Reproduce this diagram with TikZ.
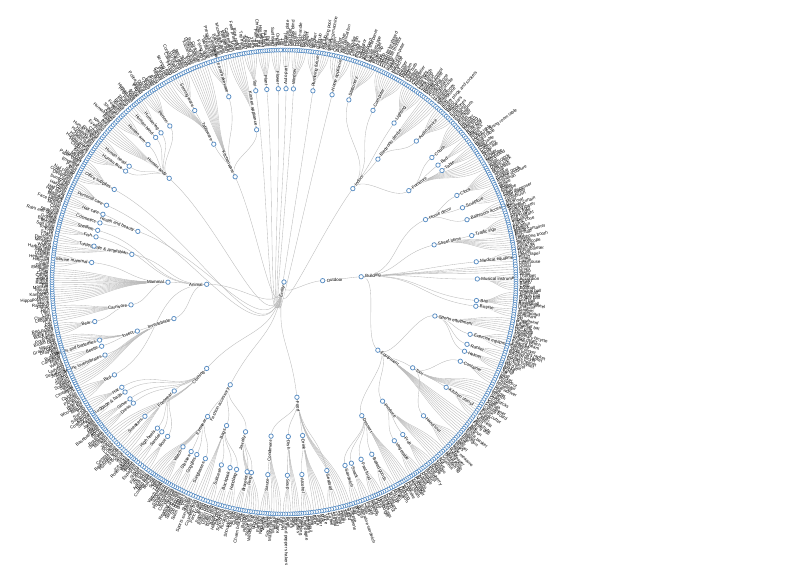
\documentclass[tikz,border=0pt]{standalone}
\usepackage{fontspec}
\setmainfont{Liberation Sans}
\definecolor{ringblue}{RGB}{90,142,196}

\tikzset{
  branch/.style={draw=black!27, line width=0.35pt},
  knot/.style={circle, draw=ringblue, fill=white, line width=0.75pt, inner sep=0pt, minimum size=4.4pt},
  leafdot/.style={knot, minimum size=4pt, line width=0.65pt},
  nodetag/.style={font=\fontsize{4.4}{4.4}\selectfont, inner sep=0.4pt, fill=white, fill opacity=0.75, text opacity=1, text=black},
  leaftag/.style={font=\fontsize{4.4}{4.4}\selectfont, inner sep=0pt, text=black},
}

\newcount\leafno
\newcount\tagno
\def\dang{0.6}
\def\mode{1}

% label pointing away from the centre
\newcommand\tagit[4]{%
  \global\advance\tagno by 1
  \pgfmathsetmacro\tr{#2+3.5}%
  \pgfmathsetmacro\tc{cos(#1)}%
  \ifdim\tc pt<0pt
    \pgfmathsetmacro\trot{#1+180}\def\tanc{east}%
  \else
    \pgfmathsetmacro\trot{#1}\def\tanc{west}%
  \fi
  \node[#4, anchor=\tanc, rotate=\trot] (tag\the\tagno) at (#1:\tr) {#3};}

% inner node: name, angle, height, parent, label
% pass 1 draws the links, pass 2 the circles and labels
\newcommand\treenode[5]{%
  \pgfmathsetmacro\kr{232*(1-#3/6)}%
  \ifnum\mode=1
    \expandafter\xdef\csname ka#1\endcsname{#2}%
    \expandafter\xdef\csname kr#1\endcsname{\kr}%
    \pgfmathsetmacro\pa{\csname ka#4\endcsname}%
    \pgfmathsetmacro\pr{\csname kr#4\endcsname}%
    \pgfmathsetmacro\km{(\pr+\kr)/2}%
    \coordinate (#1) at (#2:\kr);
    \draw[branch] (#4) .. controls (\pa:\km) and (#2:\km) .. (#1);
  \else
    \node[knot] (#1 dot) at (#1) {};
    \tagit{#2}{\kr}{#5}{nodetag}%
  \fi}

\def\popname#1,#2\relax{\gdef\curname{#1}\gdef\pool{#2}}

% leaves of one parent, from the last angle down to #2
\newcommand\fan[2]{%
  \pgfmathsetmacro\fs{\lastend}%
  \pgfmathtruncatemacro\fn{max(1,round((\fs-(#2))/\dang))}%
  \pgfmathsetmacro\fstep{(\fs-(#2))/\fn}%
  \pgfmathsetmacro\pa{\csname ka#1\endcsname}%
  \pgfmathsetmacro\pr{\csname kr#1\endcsname}%
  \pgfmathsetmacro\fm{(\pr+232)/2}%
  \foreach \k in {1,...,\fn}{%
    \pgfmathsetmacro\la{\fs-(\k-0.5)*\fstep}%
    \global\advance\leafno by 1
    \ifnum\mode=1
      \coordinate (leaf\the\leafno) at (\la:232);
      \draw[branch] (#1) .. controls (\pa:\fm) and (\la:\fm) .. (leaf\the\leafno);
    \else
      \ifx\pool\empty\global\let\pool\fullpool\fi
      \expandafter\popname\pool\relax
      \node[leafdot] (leaf\the\leafno dot) at (leaf\the\leafno) {};
      \tagit{\la}{232}{\curname}{leaftag}%
    \fi
  }%
  \xdef\lastend{#2}}

\def\fullpool{%
Tire,Wheel,License plate,Seat belt,%
Window blind,Curtain,Door,Door handle,Porch,Balcony,Skylight,%
Sink,Bidet,Shower,Tap,Bathtub,Toilet,Hot tub,Swimming pool,Urinal,%
Washing machine,Toaster,Oven,Blender,Gas stove,Mechanical fan,Heater,Kettle,Humidifier,Ceiling fan,%
Scissors,Poster,Calculator,Stapler,Whiteboard,Pencil sharpener,Eraser,Adhesive tape,Ring binder,Paper clip,Globe,%
Laptop,Computer keyboard,Computer mouse,Computer monitor,Printer,Tablet computer,Hard disk,Projector,Fax,Scanner,Router,Webcam,%
Lamp,Light bulb,Lantern,Candle,Chandelier,Torch,Flashlight,Light switch,Desk lamp,%
Television,Remote control,Mobile phone,Telephone,Corded phone,Loudspeaker,Game console,%
Camera,Headphones,Microphone,Ipod,Power plugs and sockets,Radio,Binoculars,Tripod,Earphones,%
Sofa bed,Studio couch,Loveseat,Armchair,Futon,Recliner,Ottoman,Beanbag,%
Infant bed,Bunk bed,Mattress,Pillow,%
Coffee table,Kitchen \& dining room table,Billiard table,Desk,Side table,%
Chair,Cabinetry,Bookcase,Shelf,Drawer,Wardrobe,Nightstand,Stool,%
Alarm clock,Digital clock,Wall clock,Hourglass,Timer,Sundial,Cuckoo clock,%
Bronze sculpture,Snowman,Statue,Bust,Totem,Figurine,%
Towel,Soap dispenser,Toilet paper,Toothbrush,Mirror,Bath mat,Shower curtain,%
Stop sign,Parking meter,Traffic light,Street light,Fire hydrant,Billboard,Traffic cone,%
Bench,Fountain,Mailbox,Waste container,Bus stop,Flag,Telephone booth,%
Syringe,Stethoscope,Stretcher,Band-aid,Thermometer,%
House,Skyscraper,Tower,Castle,Lighthouse,%
Guitar,Drum,Piano,Violin,Trumpet,Accordion,Organ,Banjo,Cello,%
Football,Cricket ball,Volleyball,Tennis ball,Rugby ball,Golf ball,Basketball,%
Bicycle wheel,Unicycle,Tandem,%
Skateboard,Surfboard,Ski,Snowboard,Paddle,Baseball bat,Golf club,%
Dumbbell,Treadmill,Stationary bicycle,Indoor rower,Training bench,Balance beam,Kettlebell,%
Tennis racket,Table tennis racket,Badminton racket,Squash racket,%
Football helmet,Bicycle helmet,Ski helmet,Hard hat,%
Tin can,Bottle,Barrel,Jar,Vase,Bucket,Flowerpot,%
Chainsaw,Hammer,Screwdriver,Drill,Ladder,Wrench,Scale,%
Chopsticks,Ladle,Spatula,Can opener,Cutting board,Whisk,Pizza cutter,Grater,Peeler,%
Umbrella,Tent,Parachute,Flying disc,Kite,Balloon,Dice,Picnic basket,Sword,Handgun,Rifle,%
Axe,Saw,Shovel,Pliers,Nail,Tape measure,Ruler,Sandpaper,%
Mushroom,Honeycomb,Common fig,Coconut,Nut,Olive,Tomato,%
Apple,Grape,Pear,Strawberry,Banana,Lemon,Orange,%
Carrot,Potato,Broccoli,Cabbage,Cucumber,Pumpkin,%
Ice cream,Cake,Cupcake,Tart,Pudding,Macaron,%
Bagel,Muffin,Cookie,Bread,Croissant,Doughnut,%
Hot dog,French fries,Hamburger,Pizza,Taco,Nachos,%
Popcorn,Pretzel,Candy,Chips,%
Submarine sandwich,Burrito,Wrap,%
Egg,Cheese,Guacamole,Salad,Tofu,%
Sushi,Oyster,Shrimp,Lobster,Scallop,%
Coffee,Tea,Juice,Milk,Water,Soda,%
Beer,Wine,Cocktail,Whiskey,Champagne,%
Pasta,Dumpling,Noodles,Rice,%
Stew,Curry,Broth,%
Salt and pepper shakers,Honey,Jam,Ketchup,Butter,%
Mustard,Mayonnaise,Soy sauce,Salsa,Vinegar,%
Necklace,Earrings,Crown,Brooch,%
Wedding ring,Signet ring,Ring box,%
Bangle,Cuff,Charm bracelet,Anklet,%
Clutch,Tote bag,Shoulder bag,Purse,%
Rucksack,School bag,Daypack,Hiking pack,%
Briefcase,Trolley bag,Duffel bag,Travel bag,%
Plastic bag,Paper bag,Wallet,Pencil case,Cosmetic bag,%
Aviators,Sports sunglasses,Shades,Visor,%
Swim goggles,Ski goggles,Safety goggles,Welding mask,%
Reading glasses,Monocle,Contact lens,%
Wristwatch,Pocket watch,Smartwatch,Stopwatch,Watch strap,%
Tiara,Belt,Scarf,Tie,Bow tie,%
Cowboy boot,Rain boot,Ankle boot,Ski boot,%
Flip-flops,Slipper,Clog,Espadrille,%
Pump,Stiletto,Wedge,%
Roller skates,Ice skate,Sock,Shoe,Stocking,%
Running shoe,Basketball shoe,Canvas shoe,Loafer,%
Shorts,Jeans,Skirt,Miniskirt,%
Swimwear,Brassiere,Gown,Apron,%
Baseball glove,Mitten,Glove,%
Coat,Jacket,Suit,Sweater,%
Cowboy hat,Fedora,Sombrero,Sun hat,Cap,%
Magpie,Woodpecker,Blue jay,Ostrich,Penguin,Raven,Chicken,%
Tick,Centipede,Snail,Spider,Scorpion,Worm,%
Starfish,Isopod,Squid,Jellyfish,Sea urchin,%
Ladybug,Ant,Weevil,Firefly,%
Caterpillar,Butterfly,Moth,%
Bee,Dragonfly,Grasshopper,Mosquito,Fly,%
Brown bear,Polar bear,Panda,Black bear,Teddy bear,Red panda,%
Dog,Fox,Cat,Leopard,Cheetah,Lion,Tiger,Lynx,Jaguar,Raccoon,Skunk,%
Hippopotamus,Horse,Kangaroo,Koala,Mouse,Monkey,Pig,Rabbit,Sheep,Zebra,Camel,Cattle,Deer,Elephant,Giraffe,Goat,Hamster,Hedgehog,%
Dolphin,Whale,Sea lion,Harbor seal,Walrus,Otter,Manatee,%
Dinosaur,Lizard,Snake,Frog,%
Tortoise,Sea turtle,Terrapin,Box turtle,%
Goldfish,Shark,Rays and skates,Seahorse,%
Crab,Clam,Mussel,%
Face powder,Lipstick,Perfume,Mascara,%
Hair spray,Hair dryer,Comb,Hairbrush,%
Razor,Sunscreen,Lotion,Deodorant,Cotton swab,Nail clipper,Soap,%
Pen,Pencil,Envelope,Box,Paper cutter,Notebook,Marker,Stamp,Folder,Clipboard,%
Human eye,Human mouth,Human nose,Human ear,Human beard,Human hair,Human tongue,%
Forehead,Cheek,Chin,Eyebrow,%
Man,Woman,Boy,Girl,Baby,Human body,Crowd,%
Elbow,Shoulder,Wrist,Forearm,Armpit,Biceps,%
Finger,Thumb,Palm,Fingernail,%
Human foot,Knee,Ankle,Toe,%
Player,Soldier,Police officer,Doctor,Chef,Clown,Bride,%
Plate,Bowl,Mug,Teapot,Saucer,Platter,Napkin,%
Serving tray,Jug,Pitcher,Cake stand,Cocktail shaker,Coffee cup,Wine glass,Beer glass,%
Spoon,Fork,Knife,Kitchen knife,Drinking straw,Bottle opener,Corkscrew,Tongs,%
Frying pan,Wok,Waffle iron,Slow cooker,Pressure cooker,Casserole,Baking tray,Saucepan,%
Microwave oven,Refrigerator,Dishwasher,Coffeemaker,Mixer,Food processor,Rice cooker,%
Doll,Toy block,Toy car,Puzzle,Rattle,Yo-yo,%
Tree,Palm tree,Christmas tree,Houseplant,Cactus,Bamboo,%
Rose,Lily,Sunflower,Tulip,Orchid,}
\let\pool\fullpool

% the whole tree, run once per pass
\newcommand\buildtree{%
  \xdef\lastend{90.55}\global\leafno=0
  \treenode{out}{2.0}{5}{root}{Outdoor}
  \treenode{bld}{3.9}{4}{out}{Building}
  \treenode{ani}{181.7}{4}{root}{Animal}
  \treenode{mam}{180.1}{3}{ani}{Mammal}
  \treenode{car}{188.5}{2}{mam}{Carnivore}
  \treenode{bear}{191.8}{1}{car}{Bear}
  \treenode{mmam}{174.2}{1}{mam}{Marine mammal}
  \treenode{inv}{198.4}{3}{ani}{Invertebrate}
  \treenode{ins}{198.5}{2}{inv}{Insect}
  \treenode{moth}{197.5}{1}{ins}{Moths and butterflies}
  \treenode{beet}{199.4}{1}{ins}{Beetle}
  \treenode{minv}{202.2}{1}{inv}{Marine invertebrates}
  \treenode{bird}{208.7}{1}{ani}{Bird}
  \treenode{rep}{169.7}{2}{ani}{Reptile \& Amphibian}
  \treenode{turt}{169.3}{1}{rep}{Turtle}
  \treenode{fish}{166.5}{1}{ani}{Fish}
  \treenode{shell}{164.5}{1}{ani}{Shellfish}
  \treenode{hb}{160.9}{2}{root}{Health and beauty}
  \treenode{cosm}{162.2}{1}{hb}{Cosmetics}
  \treenode{hair}{159.5}{1}{hb}{Hair care}
  \treenode{pc}{156.6}{1}{root}{Personal care}
  \treenode{offs}{151.4}{1}{root}{Office supplies}
  \treenode{body}{137.9}{2}{root}{Human body}
  \treenode{face}{145.0}{1}{body}{Human face}
  \treenode{head}{143.2}{1}{body}{Human head}
  \treenode{arm}{134.7}{1}{body}{Human arm}
  \treenode{hand}{131.6}{1}{body}{Human hand}
  \treenode{leg}{129.5}{1}{body}{Human leg}
  \treenode{person}{126.2}{1}{body}{Person}
  \treenode{kit}{114.9}{3}{root}{Kitchenware}
  \treenode{tabw}{117.0}{2}{kit}{Tableware}
  \treenode{serv}{117.5}{1}{tabw}{Serving ware}
  \treenode{cook}{106.6}{1}{kit}{Cookware and bakeware}
  \treenode{kapp}{100.2}{2}{kit}{Kitchen appliance}
  \treenode{toy}{98.4}{1}{root}{Toy}
  \treenode{plant}{95.1}{1}{root}{Plant}
  \treenode{flower}{91.7}{1}{root}{Flower}
  \treenode{t894}{89.4}{1}{root}{Auto part}
  \treenode{t872}{87.2}{1}{root}{Window}
  \treenode{t814}{81.4}{1}{root}{Plumbing fixture}
  \treenode{t756}{75.6}{1}{root}{Home appliance}
  \treenode{ind}{53.6}{3}{root}{Indoor}
  \treenode{t704}{70.4}{1}{ind}{Stationery}
  \treenode{t626}{62.6}{1}{ind}{Computer}
  \treenode{t553}{55.3}{1}{ind}{Lighting}
  \treenode{elec}{52.6}{2}{ind}{Electronic device}
  \treenode{t468}{46.8}{1}{elec}{Audio device}
  \treenode{furn}{36.2}{2}{ind}{Furniture}
  \treenode{couch}{40.1}{1}{furn}{Couch}
  \treenode{bed}{37.2}{1}{furn}{Bed}
  \treenode{table}{35.2}{1}{furn}{Table}
  \treenode{deco}{23.8}{2}{bld}{Home decor}
  \treenode{clock}{26.6}{1}{deco}{Clock}
  \treenode{sculp}{22.6}{1}{deco}{Sculpture}
  \treenode{bath}{18.8}{1}{deco}{Bathroom accessory}
  \treenode{street}{13.9}{2}{bld}{Street items}
  \treenode{tsign}{13.9}{1}{street}{Traffic sign}
  \treenode{med}{6.0}{1}{bld}{Medical equipment}
  \treenode{musi}{0.9}{1}{bld}{Musical instrument}
  \treenode{ball}{-5.5}{1}{bld}{Ball}
  \treenode{bike}{-7.2}{1}{bld}{Bicycle}
  \treenode{gear}{-36.0}{3}{bld}{Equipment}
  \treenode{sport}{-12.7}{2}{gear}{Sports equipment}
  \treenode{exer}{-15.7}{1}{sport}{Exercise equipment}
  \treenode{rack}{-18.8}{1}{sport}{Racket}
  \treenode{helm}{-21.0}{1}{sport}{Helmet}
  \treenode{tool}{-33.7}{2}{gear}{Tool}
  \treenode{cont}{-24.2}{1}{tool}{Container}
  \treenode{kut}{-33.0}{1}{tool}{Kitchen utensil}
  \treenode{htool}{-43.8}{1}{tool}{Hand tool}
  \treenode{prod}{-50.4}{2}{gear}{Produce}
  \treenode{fruit}{-52.1}{1}{prod}{Fruit}
  \treenode{vegt}{-55.2}{1}{prod}{Vegetable}
  \treenode{dess}{-59.8}{2}{gear}{Dessert}
  \treenode{baked}{-63.0}{1}{dess}{Baked goods}
  \treenode{fastf}{-66.5}{1}{dess}{Fast food}
  \treenode{snack}{-69.6}{1}{dess}{Snack}
  \treenode{sandw}{-71.6}{1}{dess}{Sandwich}
  \treenode{food}{-83.6}{3}{root}{Food}
  \treenode{seaf}{-77.2}{1}{food}{Seafood}
  \treenode{drink}{-83.1}{2}{food}{Drink}
  \treenode{alco}{-84.7}{1}{drink}{Alcohol}
  \treenode{dish}{-88.4}{2}{food}{Dish}
  \treenode{soup}{-89.0}{1}{dish}{Soup}
  \treenode{cond}{-94.8}{2}{food}{Condiment}
  \treenode{sauce}{-94.8}{1}{cond}{Sauce}
  \treenode{fash}{-117.6}{3}{root}{Fashion accessory}
  \treenode{jew}{-104.4}{2}{fash}{Jewelry}
  \treenode{ring}{-99.7}{1}{jew}{Ring}
  \treenode{brac}{-101.0}{1}{jew}{Bracelet}
  \treenode{bags}{-111.8}{2}{fash}{Bags}
  \treenode{hbag}{-104.2}{1}{bags}{Handbag}
  \treenode{backp}{-106.2}{1}{bags}{Backpack}
  \treenode{suitc}{-108.9}{1}{bags}{Suitcase}
  \treenode{eyew}{-119.6}{2}{fash}{Eyewear}
  \treenode{sungl}{-114.0}{1}{eyew}{Sunglasses}
  \treenode{goggl}{-116.8}{1}{eyew}{Goggles}
  \treenode{glass}{-118.7}{1}{eyew}{Glasses}
  \treenode{watch}{-121.5}{1}{eyew}{Watch}
  \treenode{cloth}{-131.8}{3}{root}{Clothing}
  \treenode{foot}{-135.2}{2}{cloth}{Footwear}
  \treenode{boot}{-127.0}{1}{foot}{Boot}
  \treenode{sandal}{-129.2}{1}{foot}{Sandal}
  \treenode{heels}{-130.9}{1}{foot}{High heels}
  \treenode{sneak}{-136.0}{1}{foot}{Sneakers}
  \treenode{dress}{-141.2}{1}{cloth}{Dress}
  \treenode{glove}{-142.8}{1}{cloth}{Glove}
  \treenode{lugg}{-145.3}{1}{cloth}{Luggage \& bags}
  \treenode{hat}{-147.0}{1}{cloth}{Hat}
  % leaves, clockwise from the top
  \fan{t894}{88.3}  \fan{t872}{84.3}  \fan{t814}{78.5}  \fan{t756}{73.0}
  \fan{t704}{66.5}  \fan{t626}{59.0}  \fan{t553}{53.2}  \fan{elec}{48.9}
  \fan{t468}{43.5}  \fan{couch}{38.7} \fan{bed}{36.2}   \fan{table}{33.4}
  \fan{furn}{29.1}  \fan{clock}{24.6} \fan{sculp}{20.7} \fan{bath}{16.4}
  \fan{tsign}{11.9} \fan{street}{7.9} \fan{med}{4.8}    \fan{bld}{2.2}
  \fan{musi}{-2.3}  \fan{ball}{-6.4}  \fan{bike}{-8.9}  \fan{sport}{-13.1}
  \fan{exer}{-17.3} \fan{rack}{-19.9} \fan{helm}{-22.6} \fan{cont}{-26.4}
  \fan{tool}{-30.8} \fan{kut}{-35.8}  \fan{gear}{-41.2} \fan{htool}{-45.9}
  \fan{prod}{-50.1} \fan{fruit}{-53.7} \fan{vegt}{-57.1} \fan{dess}{-61.0}
  \fan{baked}{-64.8} \fan{fastf}{-68.1} \fan{snack}{-70.6} \fan{sandw}{-73.1}
  \fan{food}{-75.9} \fan{seaf}{-79.1} \fan{drink}{-82.9} \fan{alco}{-85.9}
  \fan{dish}{-88.0} \fan{soup}{-90.5} \fan{cond}{-93.4} \fan{sauce}{-96.2}
  \fan{jew}{-98.6}  \fan{ring}{-100.4} \fan{brac}{-102.6} \fan{hbag}{-105.2}
  \fan{backp}{-107.6} \fan{suitc}{-110.2} \fan{bags}{-112.8} \fan{sungl}{-115.4}
  \fan{goggl}{-117.8} \fan{glass}{-120.1} \fan{watch}{-122.8} \fan{eyew}{-125.5}
  \fan{boot}{-128.1} \fan{sandal}{-130.1} \fan{heels}{-132.2} \fan{foot}{-134.8}
  \fan{sneak}{-137.3} \fan{cloth}{-139.9} \fan{dress}{-142.0} \fan{glove}{-144.1}
  \fan{lugg}{-146.2} \fan{hat}{-149.2} \fan{bird}{-152.9} \fan{inv}{-156.2}
  \fan{minv}{-159.2} \fan{beet}{-161.6} \fan{moth}{-163.7} \fan{ins}{-166.5}
  \fan{bear}{-169.9} \fan{car}{-174.3} \fan{mam}{-183.6} \fan{mmam}{-187.4}
  \fan{rep}{-189.5} \fan{turt}{-192.1} \fan{fish}{-194.5} \fan{shell}{-196.7}
  \fan{cosm}{-199.2} \fan{hair}{-202.0} \fan{pc}{-206.0} \fan{offs}{-211.8}
  \fan{face}{-215.9} \fan{head}{-218.7} \fan{body}{-222.9} \fan{arm}{-226.9}
  \fan{hand}{-229.5} \fan{leg}{-232.2} \fan{person}{-236.2} \fan{tabw}{-240.5}
  \fan{serv}{-245.3} \fan{kit}{-250.7} \fan{cook}{-255.7} \fan{kapp}{-259.8}
  \fan{toy}{-263.3} \fan{plant}{-266.6} \fan{flower}{-269.45}}

\begin{document}
\begin{tikzpicture}[x=1pt,y=1pt]
  \fill[white] (-284,-286) rectangle (516,282);
  \useasboundingbox (-284,-286) rectangle (516,282);

  \coordinate (root) at (0,0);
  \gdef\karoot{-100}\gdef\krroot{0}

  % pass 1: links
  \def\mode{1}
  \buildtree

  % pass 2: circles and labels on top
  \def\mode{2}
  \node[knot] (root dot) at (root) {};
  \tagit{-100}{0}{Entity}{nodetag}
  \buildtree
\end{tikzpicture}
\end{document}
